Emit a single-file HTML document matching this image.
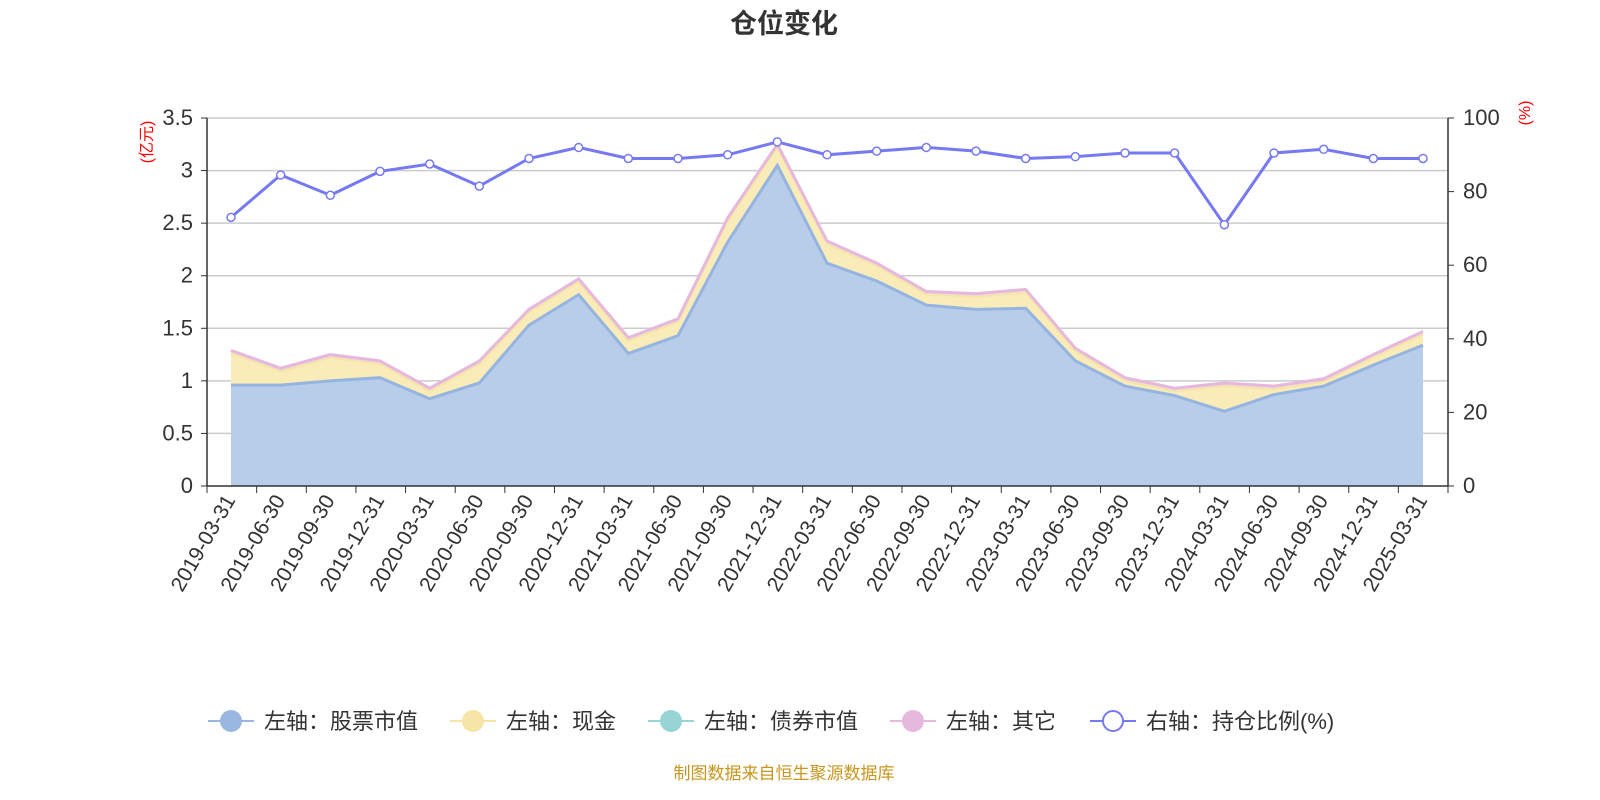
<!DOCTYPE html>
<html><head><meta charset="utf-8">
<style>
body{margin:0;background:#fff;}
svg{display:block;font-family:"Liberation Sans","Noto Sans CJK SC",sans-serif;}
</style></head><body>
<svg id="c" width="1600" height="800" xmlns="http://www.w3.org/2000/svg"></svg>
<script>
const s=document.getElementById('c');
const dates=["2019-03-31","2019-06-30","2019-09-30","2019-12-31","2020-03-31","2020-06-30","2020-09-30","2020-12-31","2021-03-31","2021-06-30","2021-09-30","2021-12-31","2022-03-31","2022-06-30","2022-09-30","2022-12-31","2023-03-31","2023-06-30","2023-09-30","2023-12-31","2024-03-31","2024-06-30","2024-09-30","2024-12-31","2025-03-31"];
const stock=[0.96,0.96,1.00,1.03,0.83,0.98,1.53,1.82,1.26,1.43,2.32,3.05,2.12,1.95,1.72,1.68,1.69,1.19,0.95,0.86,0.71,0.87,0.95,1.15,1.34];
const tot=[1.29,1.12,1.25,1.19,0.93,1.19,1.68,1.97,1.41,1.59,2.55,3.25,2.33,2.12,1.85,1.83,1.87,1.31,1.03,0.93,0.98,0.95,1.02,1.25,1.47];
const pct=[73,84.5,79,85.5,87.5,81.5,89,92,89,89,90,93.5,90,91,92,91,89,89.5,90.5,90.5,71,90.5,91.5,89,89];
const X=i=>231+i*49.667, YL=v=>486-v*105.14, YR=p=>486-p*3.68;
let h='';
h+='<text x="784" y="33" text-anchor="middle" font-size="27" font-weight="bold" fill="#333">仓位变化</text>';
for(let k=0;k<=7;k++){const y=486-k*52.57;
 if(k>0)h+=`<line x1="207" x2="1448" y1="${y}" y2="${y}" stroke="#ccc" stroke-width="1.5"/>`;
 h+=`<line x1="201" x2="207" y1="${y}" y2="${y}" stroke="#333"/>`;
 h+=`<text x="193" y="${y+7}" text-anchor="end" font-size="22" fill="#333">${k*0.5}</text>`;}
for(let k=0;k<=5;k++){const y=486-k*73.6;
 h+=`<line x1="1448" x2="1454" y1="${y}" y2="${y}" stroke="#333"/>`;
 h+=`<text x="1463" y="${y+7}" font-size="22" fill="#333">${k*20}</text>`;}
h+='<text transform="translate(152,142) rotate(-90)" text-anchor="middle" font-size="16" fill="red">(亿元)</text>';
h+='<text transform="translate(1530,113) rotate(-90)" text-anchor="middle" font-size="16" fill="red">(%)</text>';
let cash=tot.map(v=>v-0.03);
let pt=(a)=>a.map((v,i)=>`${X(i)},${YL(v)}`).join(' ');
let rev=(a)=>a.map((v,i)=>`${X(i)},${YL(v)}`).reverse().join(' ');
h+=`<polygon points="${pt(tot)} ${rev(cash)}" fill="#e8b8d8" opacity="0.6"/>`;
h+=`<polygon points="${pt(cash)} ${rev(stock)}" fill="#f9ecb8"/>`;
h+=`<polygon points="${pt(stock)} ${X(24)},486 ${X(0)},486" fill="#b7cdea"/>`;
h+=`<polyline points="${pt(cash)}" fill="none" stroke="#f5e6a8" stroke-width="2"/>`;
h+=`<polyline points="${pt(tot)}" fill="none" stroke="#e6b8dc" stroke-width="3"/>`;
h+=`<polyline points="${pt(stock)}" fill="none" stroke="#96b4e0" stroke-width="3"/>`;
h+='<line x1="207" x2="207" y1="118" y2="486" stroke="#333" stroke-width="1.5"/>';
h+='<line x1="1448" x2="1448" y1="118" y2="486" stroke="#333" stroke-width="1.5"/>';
h+='<line x1="207" x2="1448" y1="486" y2="486" stroke="#333" stroke-width="1.5"/>';
for(let i=0;i<=25;i++){const x=207+i*49.64;h+=`<line x1="${x}" x2="${x}" y1="486" y2="493" stroke="#333"/>`;}
dates.forEach((d,i)=>{h+=`<text transform="translate(${X(i)+5},500) rotate(-60)" text-anchor="end" font-size="21" fill="#333">${d}</text>`;});
h+=`<polyline points="${pct.map((p,i)=>X(i)+','+YR(p)).join(' ')}" fill="none" stroke="#7679f2" stroke-width="3"/>`;
pct.forEach((p,i)=>{h+=`<circle cx="${X(i)}" cy="${YR(p)}" r="4" fill="#fff" stroke="#7679f2" stroke-width="1.5"/>`;});
const leg=[[208,"#9ab7e0","左轴：股票市值",true],[450,"#f5e6a8","左轴：现金",true],[648,"#98d4d4","左轴：债券市值",true],[890,"#e6b8dc","左轴：其它",true],[1090,"#7679f2","右轴：持仓比例(%)",false]];
leg.forEach(([x,c,t,f])=>{
 h+=`<line x1="${x}" x2="${x+46}" y1="721" y2="721" stroke="${c}" stroke-width="2"/>`;
 h+=f?`<circle cx="${x+23}" cy="721" r="11" fill="${c}"/>`:`<circle cx="${x+23}" cy="721" r="10" fill="#fff" stroke="${c}" stroke-width="2"/>`;
 h+=`<text x="${x+56}" y="729" font-size="22" fill="#333">${t}</text>`;});
h+='<text x="784" y="779" text-anchor="middle" font-size="17" fill="#c8961e">制图数据来自恒生聚源数据库</text>';
s.innerHTML=h;
</script>
</body></html>
